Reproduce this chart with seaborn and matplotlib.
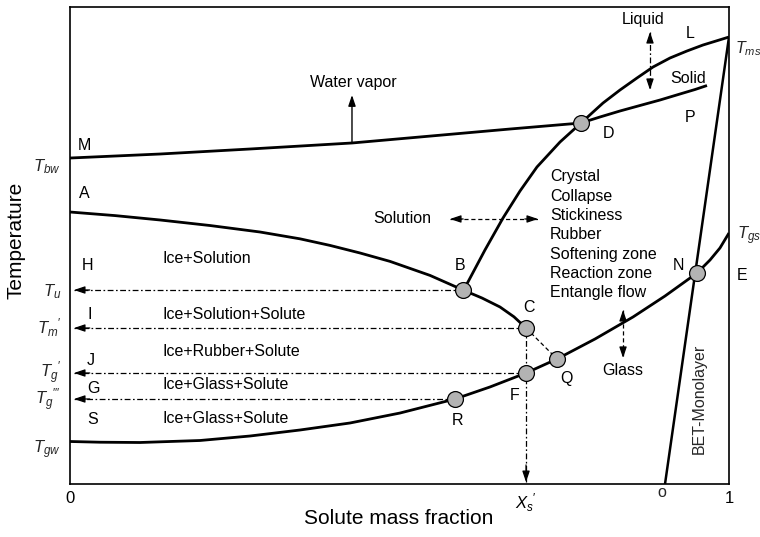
import matplotlib
matplotlib.use("Agg")
import matplotlib.pyplot as plt
import seaborn as sns
import pandas as pd

sns.set_theme(style="white")
plt.rcParams["font.family"] = ["Liberation Sans", "DejaVu Sans"]
plt.rcParams["mathtext.fontset"] = "custom"
plt.rcParams["mathtext.rm"] = "Liberation Sans"
plt.rcParams["mathtext.it"] = "Liberation Sans:italic"
plt.rcParams["mathtext.bf"] = "Liberation Sans:bold"
plt.rcParams["lines.scale_dashes"] = False

# ---- phase boundaries: x = solute mass fraction, y = temperature (arbitrary units) ----
# water-vapour line M-D continued by the solidus D-P
vapor_x = [0.0, 0.1366, 0.2731, 0.4279, 0.5311, 0.6677, 0.7754, 0.8042, 0.8346,
           0.8649, 0.8953, 0.9256, 0.9484, 0.9666]
vapor_y = [68.34, 69.18, 70.23, 71.49, 72.75, 74.42, 75.68, 76.94, 78.20,
           79.35, 80.50, 81.76, 82.70, 83.54]

# solubility / melting line B-D-Tms
liquidus_x = [0.5964, 0.6039, 0.6297, 0.6571, 0.6829, 0.7086, 0.7436, 0.7754, 0.8088,
              0.8346, 0.8604, 0.8847, 0.9105, 0.9363, 0.9605, 0.9803, 1.0]
liquidus_y = [40.67, 42.35, 49.06, 55.77, 61.43, 66.46, 71.70, 75.68, 79.87,
              82.60, 85.12, 87.42, 89.31, 90.78, 92.03, 92.87, 93.71]

# freezing line A-B-C
freezing_x = [0.0, 0.0683, 0.1366, 0.2124, 0.2883, 0.3490, 0.3945, 0.4401, 0.4856,
              0.5463, 0.5964, 0.6252, 0.6525, 0.6737, 0.6920]
freezing_y = [57.02, 56.27, 55.35, 54.19, 52.83, 51.40, 50.02, 48.43, 46.67,
              43.73, 40.67, 38.99, 37.11, 35.05, 32.70]

# glass transition line Tgw-R-F-Q-N-Tgs
glass_x = [0.0, 0.0455, 0.1062, 0.1973, 0.2731, 0.3490, 0.4249, 0.5008, 0.5842, 0.6373,
           0.6920, 0.7390, 0.7967, 0.8543, 0.9029, 0.9515, 0.9712, 0.9863, 1.0]
glass_y = [8.91, 8.76, 8.70, 9.12, 10.06, 11.32, 12.79, 14.88, 17.82, 20.34,
           23.27, 26.21, 30.40, 35.01, 39.41, 44.23, 46.96, 49.48, 52.62]

# BET monolayer line
bet_x = [0.9029, 1.0]
bet_y = [0.0, 93.71]

# ---- characteristic points ----
pt_names = ["B", "C", "D", "F", "Q", "R", "N"]
pt_x = [0.5964, 0.6920, 0.7754, 0.6920, 0.7390, 0.5842, 0.9515]
pt_y = [40.67, 32.70, 75.68, 23.27, 26.21, 17.82, 44.23]
pts = dict(zip(pt_names, zip(pt_x, pt_y)))

# ---- labels ----
left_temp_labels = [r"$T_{bw}$", r"$T_u$", r"$T_{m}{}^{\prime}$", r"$T_{g}{}^{\prime}$",
                    r"$T_{g}{}^{\prime\prime\prime}$", r"$T_{gw}$"]
left_temp_base = [65.62, 39.41, 31.45, 22.22, 16.56, 6.50]
region_letters = ["M", "A", "H", "I", "J", "G", "S"]
region_letter_x = [0.0121, 0.0137, 0.0180, 0.0258, 0.0258, 0.0258, 0.0258]
region_letter_base = [70.02, 59.96, 44.86, 34.59, 24.95, 19.08, 12.58]
region_texts = ["Ice+Solution", "Ice+Solution+Solute", "Ice+Rubber+Solute",
                "Ice+Glass+Solute", "Ice+Glass+Solute"]
region_text_base = [46.33, 34.59, 26.83, 19.92, 12.79]
zone_terms = ["Crystal", "Collapse", "Stickiness", "Rubber", "Softening zone",
              "Reaction zone", "Entangle flow"]
x_tick_vals = [0.0, pts["C"][0], 1.0]
x_tick_labels = ["0", r"$X_{s}{}^{\prime}$", "1"]

# ---- figure ----
fig = plt.figure(figsize=(7.6, 5.37), dpi=100)
ax = fig.add_axes([70 / 760, 53 / 537, 659 / 760, 477 / 537])
ax.set_xlim(0, 1)
ax.set_ylim(0, 100)

curve_kw = dict(color="black", linewidth=2.0, estimator=None, sort=False, legend=False,
                ax=ax, solid_joinstyle="round", solid_capstyle="butt")
for cx, cy in [(vapor_x, vapor_y), (liquidus_x, liquidus_y), (freezing_x, freezing_y),
               (glass_x, glass_y)]:
    sns.lineplot(data=pd.DataFrame({"x": cx, "y": cy}), x="x", y="y", **curve_kw)
sns.lineplot(data=pd.DataFrame({"x": bet_x, "y": bet_y}), x="x", y="y",
             **{**curve_kw, "linewidth": 1.8})

dashdot = [4.2, 1.8, 1.2, 1.8]
dash = [3.0, 2.0]


def head(tip, tail):
    ax.annotate("", xy=tip, xytext=tail,
                arrowprops=dict(arrowstyle="-|>,head_length=0.65,head_width=0.22",
                                mutation_scale=10, color="black", lw=0.9,
                                shrinkA=0, shrinkB=0))


# horizontal guides from the characteristic points to the temperature axis
for name in ["B", "C", "F", "R"]:
    px, py = pts[name]
    ax.plot([px, 0.006], [py, py], color="black", lw=0.9, dashes=dashdot)
    head((0.006, py), (0.03, py))

# X_s' drop line and C-Q link
cx, cy = pts["C"]
ax.plot([cx, cx], [cy, 0.4], color="black", lw=0.9, dashes=dashdot)
head((cx, 0.4), (cx, 4))
ax.plot([cx, pts["Q"][0]], [cy, pts["Q"][1]], color="black", lw=0.9, dashes=dash)

# water vapor arrow
ax.annotate("", xy=(0.4279, 81.55), xytext=(0.4279, 71.49),
            arrowprops=dict(arrowstyle="-|>,head_length=0.65,head_width=0.22",
                            mutation_scale=10, color="black", lw=1.0, shrinkA=0, shrinkB=0))


# double-headed dashed arrows
def double_arrow(p1, p2, pattern):
    ax.plot([p1[0], p2[0]], [p1[1], p2[1]], color="black", lw=0.9, dashes=pattern)
    mx, my = (p1[0] + p2[0]) / 2, (p1[1] + p2[1]) / 2
    head(p1, (p1[0] + (mx - p1[0]) * 0.3, p1[1] + (my - p1[1]) * 0.3))
    head(p2, (p2[0] + (mx - p2[0]) * 0.3, p2[1] + (my - p2[1]) * 0.3))


double_arrow((0.8801, 94.76), (0.8801, 82.60), dashdot)      # liquid / solid
double_arrow((0.5766, 55.56), (0.7102, 55.56), dash)         # solution
double_arrow((0.8392, 36.48), (0.8392, 26.42), dash)         # glass

# points
sns.scatterplot(x=pt_x, y=pt_y, s=130, color="#b3b3b3", edgecolor="black",
                linewidth=0.9, zorder=6, legend=False, ax=ax)

fs = 11.5
tkw = dict(fontsize=fs, color="black", va="baseline")

# point letters
for name, x, y in [("B", 0.5842, 44.86), ("C", 0.6874, 36.06), ("D", 0.8088, 72.54),
                   ("F", 0.6677, 17.61), ("Q", 0.7436, 21.17), ("R", 0.5797, 12.37),
                   ("N", 0.9150, 44.86), ("L", 0.9347, 93.50), ("P", 0.9332, 75.89)]:
    ax.text(x, y, name, ha="left", **tkw)
ax.text(1.0121, 42.77, "E", ha="left", clip_on=False, **tkw)

for s, x, y in zip(region_letters, region_letter_x, region_letter_base):
    ax.text(x, y, s, ha="left", **tkw)
for s, y in zip(region_texts, region_text_base):
    ax.text(0.1411, y, s, ha="left", **tkw)

zone_base0, zone_step = 63.42, -4.04
for i, s in enumerate(zone_terms):
    ax.text(0.7284, zone_base0 + i * zone_step, s, ha="left", **tkw)

ax.text(0.4294, 83.23, "Water vapor", ha="center", **tkw)
ax.text(0.5045, 54.72, "Solution", ha="center", **tkw)
ax.text(0.8703, 96.44, "Liquid", ha="center", **tkw)
ax.text(0.9105, 84.07, "Solid", ha="left", **tkw)
ax.text(0.8392, 22.85, "Glass", ha="center", **tkw)
ax.text(0.9545, 17.82, "BET-Monolayer", ha="center", va="center", rotation=90, fontsize=fs)
ax.text(0.8983, -2.73, "o", ha="center", va="baseline", fontsize=fs, clip_on=False)

# temperature marks on both sides
for s, y in zip(left_temp_labels, left_temp_base):
    ax.text(-0.0137, y, s, ha="right", va="baseline", fontsize=12, clip_on=False)
ax.text(1.0091, 90.36, r"$T_{ms}$", ha="left", va="baseline", fontsize=11.5, clip_on=False)
ax.text(1.0121, 51.26, r"$T_{gs}$", ha="left", va="baseline", fontsize=12, clip_on=False)

ax.set_xticks(x_tick_vals)
ax.set_xticklabels(x_tick_labels, fontsize=12)
ax.set_yticks([])
ax.tick_params(axis="x", length=0, pad=5, colors="black")

ax.set_xlabel("Solute mass fraction", fontsize=15, color="black")
ax.set_ylabel("Temperature", fontsize=15, color="black")
ax.xaxis.set_label_coords(0.499, -0.052)
ax.yaxis.set_label_coords(-0.067, 0.51)

for sp in ax.spines.values():
    sp.set_visible(True)
    sp.set_color("black")
    sp.set_linewidth(1.2)

fig.savefig("out.png", dpi=100)
